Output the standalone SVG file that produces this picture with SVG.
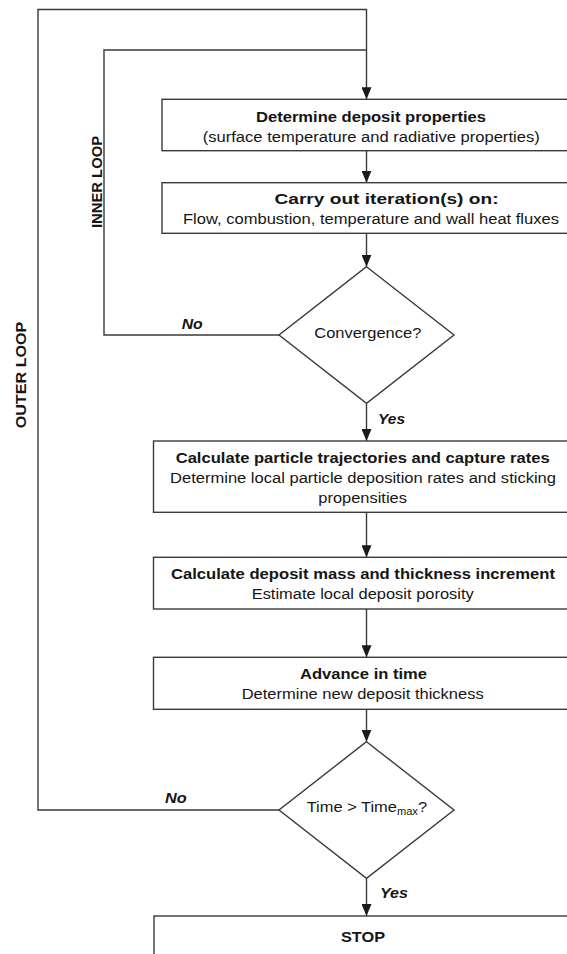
<svg xmlns="http://www.w3.org/2000/svg" width="567" height="954" viewBox="0 0 567 954">
  <style>
    .box { fill: #ffffff; stroke: #3a3a3a; stroke-width: 1.4; }
    .wire { fill: none; stroke: #3a3a3a; stroke-width: 1.4; }
    .t { font-family: "Liberation Sans", Arial, sans-serif; font-size: 15.5px; fill: #151515; }
    .b { font-weight: bold; }
    .lbl { font-family: "Liberation Sans", Arial, sans-serif; font-size: 15px; font-weight: bold; font-style: italic; fill: #151515; }
    .loop { font-family: "Liberation Sans", Arial, sans-serif; font-size: 15px; font-weight: bold; fill: #151515; }
  </style>
  <defs>
    <!-- filled arrowhead, drawn along +x so orient="auto" follows the line -->
    <marker id="arrow" viewBox="0 0 12 10" refX="12" refY="5" markerWidth="12" markerHeight="10" markerUnits="userSpaceOnUse" orient="auto">
      <path d="M0,0 L12,5 L0,10 Z" fill="#1a1a1a"/>
    </marker>
  </defs>
  <rect width="567" height="954" fill="#ffffff"/>

  <!-- connectors -->
  <g id="connectors">
    <!-- outer loop: time check back to the deposit-properties step -->
    <polyline class="wire" points="279,810 38,810 38,9.5 366.5,9.5 366.5,99.3" marker-end="url(#arrow)"/>
    <!-- inner loop: convergence check back into the main line -->
    <polyline class="wire" points="279,335 104,335 104,50 366.5,50"/>
    <line class="wire" x1="366.5" y1="150.7" x2="366.5" y2="182.7" marker-end="url(#arrow)"/>
    <line class="wire" x1="366.5" y1="233.3" x2="366.5" y2="266.7" marker-end="url(#arrow)"/>
    <line class="wire" x1="366.5" y1="403.3" x2="366.5" y2="441" marker-end="url(#arrow)"/>
    <line class="wire" x1="366.5" y1="512.3" x2="366.5" y2="557.3" marker-end="url(#arrow)"/>
    <line class="wire" x1="366.5" y1="609" x2="366.5" y2="657.3" marker-end="url(#arrow)"/>
    <line class="wire" x1="366.5" y1="709.3" x2="366.5" y2="741.7" marker-end="url(#arrow)"/>
    <line class="wire" x1="366.5" y1="878.3" x2="366.5" y2="916" marker-end="url(#arrow)"/>
    <text class="lbl" x="181.7" y="329.3" textLength="21" lengthAdjust="spacingAndGlyphs">No</text>
    <text class="lbl" x="378" y="424.3" textLength="27" lengthAdjust="spacingAndGlyphs">Yes</text>
    <text class="lbl" x="165" y="803.3" textLength="21.7" lengthAdjust="spacingAndGlyphs">No</text>
    <text class="lbl" x="380" y="898" textLength="28" lengthAdjust="spacingAndGlyphs">Yes</text>
    <text class="loop" transform="translate(102,182) rotate(-90)" text-anchor="middle" textLength="92" lengthAdjust="spacingAndGlyphs">INNER LOOP</text>
    <text class="loop" transform="translate(25.5,375) rotate(-90)" text-anchor="middle" textLength="106.7" lengthAdjust="spacingAndGlyphs">OUTER LOOP</text>
  </g>

  <g id="deposit-properties">
    <rect class="box" x="162" y="99.3" width="430" height="51.4"/>
    <text class="t b" x="256" y="122" textLength="230" lengthAdjust="spacingAndGlyphs">Determine deposit properties</text>
    <text class="t" x="202.7" y="142" textLength="337" lengthAdjust="spacingAndGlyphs">(surface temperature and radiative properties)</text>
  </g>

  <g id="iterations">
    <rect class="box" x="162" y="182.7" width="430" height="50.6"/>
    <text class="t b" x="274.5" y="204" textLength="224" lengthAdjust="spacingAndGlyphs">Carry out iteration(s) on:</text>
    <text class="t" x="183" y="224" textLength="376" lengthAdjust="spacingAndGlyphs">Flow, combustion, temperature and wall heat fluxes</text>
  </g>

  <g id="convergence">
    <polygon class="box" points="366.5,266.7 454,335 366.5,403.3 279,335"/>
    <text class="t" x="314.3" y="338.3" textLength="107" lengthAdjust="spacingAndGlyphs">Convergence?</text>
  </g>

  <g id="trajectories">
    <rect class="box" x="153.5" y="441" width="440" height="71.3"/>
    <text class="t b" x="175.7" y="463" textLength="374" lengthAdjust="spacingAndGlyphs">Calculate particle trajectories and capture rates</text>
    <text class="t" x="170" y="483.3" textLength="386" lengthAdjust="spacingAndGlyphs">Determine local particle deposition rates and sticking</text>
    <text class="t" x="318.3" y="503.3" textLength="88.6" lengthAdjust="spacingAndGlyphs">propensities</text>
  </g>

  <g id="deposit-mass">
    <rect class="box" x="153.5" y="557.3" width="440" height="51.7"/>
    <text class="t b" x="171" y="579.3" textLength="384" lengthAdjust="spacingAndGlyphs">Calculate deposit mass and thickness increment</text>
    <text class="t" x="251.7" y="599.3" textLength="222" lengthAdjust="spacingAndGlyphs">Estimate local deposit porosity</text>
  </g>

  <g id="advance-time">
    <rect class="box" x="153.5" y="657.3" width="440" height="52"/>
    <text class="t b" x="300" y="678.7" textLength="127" lengthAdjust="spacingAndGlyphs">Advance in time</text>
    <text class="t" x="241.7" y="699.3" textLength="242" lengthAdjust="spacingAndGlyphs">Determine new deposit thickness</text>
  </g>

  <g id="time-check">
    <polygon class="box" points="366.5,741.7 454,810 366.5,878.3 279,810"/>
    <g transform="translate(306.7,811.7) scale(1.06,1)">
      <text class="t" x="0" y="0">Time &gt; Time<tspan font-size="10.5" dy="3">max</tspan><tspan dy="-3">?</tspan></text>
    </g>
  </g>

  <g id="stop">
    <rect class="box" x="154" y="916" width="440" height="60"/>
    <text class="t b" x="341" y="941.7" textLength="44" lengthAdjust="spacingAndGlyphs">STOP</text>
  </g>
</svg>
